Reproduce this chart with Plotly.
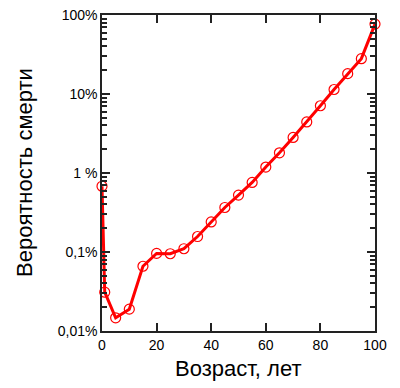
import plotly.graph_objects as go

ages = [0, 1, 5, 10, 15, 20, 25, 30, 35, 40, 45, 50, 55, 60, 65, 70, 75, 80, 85, 90, 95, 100]
prob_pct = [0.68, 0.031, 0.0147, 0.0189, 0.066, 0.096, 0.095, 0.11, 0.157, 0.24, 0.366, 0.525,
            0.76, 1.19, 1.8, 2.82, 4.43, 7.1, 11.4, 18.1, 28.0, 76.7]

y_tickvals = [0.01, 0.1, 1, 10, 100]
y_ticktext = ["0,01%", "0,1%", "1 %", "10%", "100%"]
x_tickvals = [0, 20, 40, 60, 80, 100]
x_title = "Возраст, лет"
y_title = "Вероятность смерти"

minor_vals = [m * 10.0 ** e for e in range(-2, 2) for m in range(2, 10)]

L, R, T, B = 102, 25, 15, 57
W, H = 400, 388
pw, ph = W - L - R, H - T - B

fig = go.Figure()
fig.add_trace(go.Scatter(
    x=ages, y=prob_pct, mode="lines+markers",
    line=dict(color="#ff0000", width=3),
    marker=dict(symbol="circle-open", size=10, color="#ff0000", line=dict(width=1.2, color="#ff0000")),
    showlegend=False, cliponaxis=False,
))

fig.update_layout(
    width=W, height=H,
    margin=dict(l=L, r=R, t=T, b=B, autoexpand=False),
    paper_bgcolor="white", plot_bgcolor="white",
    font=dict(family="Liberation Sans, Arial, sans-serif", color="black"),
    xaxis=dict(
        range=[0, 100], tickvals=x_tickvals, ticks="inside", ticklen=8, tickwidth=2,
        tickcolor="#222", showline=True, linecolor="#222", linewidth=1.5, mirror="allticks",
        showgrid=False, zeroline=False, tickfont=dict(size=14), automargin=False,
    ),
    yaxis=dict(
        type="log", range=[-2, 2], tickvals=y_tickvals, ticktext=y_ticktext,
        ticks="inside", ticklen=8, tickwidth=2, tickcolor="#222",
        showline=True, linecolor="#222", linewidth=1.5, mirror="allticks",
        showgrid=False, zeroline=False, tickfont=dict(size=14), automargin=False,
        minor=dict(tickvals=minor_vals, ticks="inside", ticklen=5, tickwidth=1.5, tickcolor="#222", showgrid=False),
    ),
    annotations=[
        dict(text=x_title, x=0.5, xref="paper", y=(H - B - 368) / ph, yref="paper", showarrow=False,
             font=dict(size=22), xanchor="center", yanchor="middle"),
        dict(text=y_title, x=(24 - L) / pw, y=0.5, xref="paper", yref="paper", textangle=-90,
             showarrow=False, font=dict(size=22), xanchor="center", yanchor="middle"),
    ],
)

fig.write_html("out.html", config={"displayModeBar": False},
               post_script="document.body.style.margin='0';")
